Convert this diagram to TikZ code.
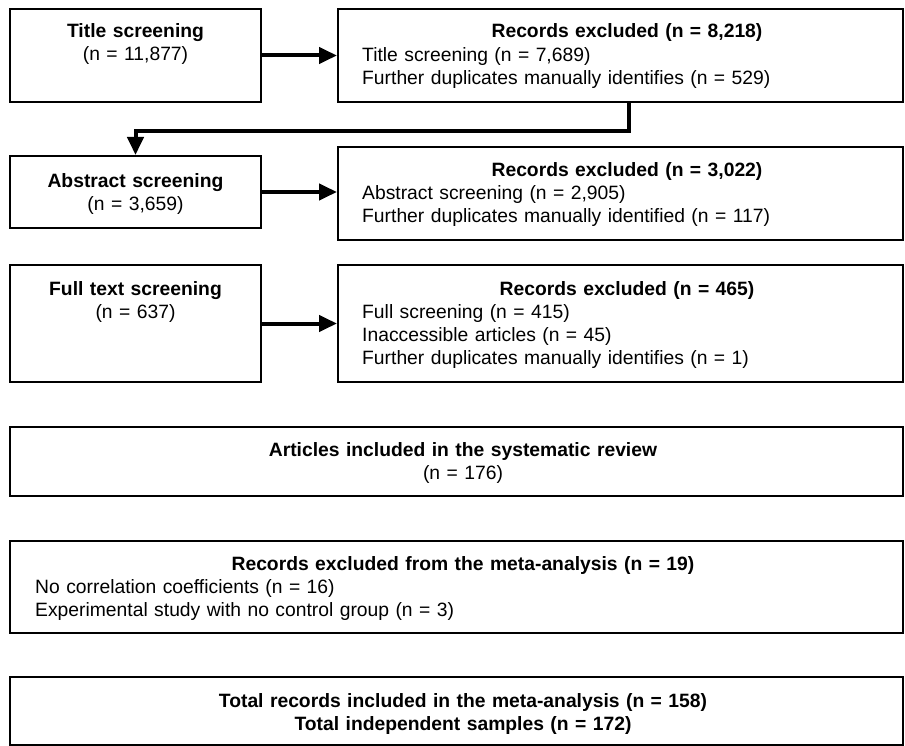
\documentclass[tikz,border=0pt]{standalone}
\usepackage{fontspec}
\setmainfont{Liberation Sans}
\usetikzlibrary{arrows.meta,positioning}

\tikzset{
	box/.style={draw, line width=2pt, inner sep=0pt},
	label/.style={font=\fontsize{19.3}{23}\selectfont, inner sep=0pt, anchor=base},
	centred/.style={label, align=center, text width=560pt},
	listed/.style={label, align=left, text width=540pt, anchor=base west},
	flow/.style={line width=4pt, -{Triangle[length=18pt,width=16pt]}}
}

\begin{document}
\begin{tikzpicture}[x=1pt,y=-1pt]
		\useasboundingbox (0,0) rectangle (905,746);
		\node[box, minimum width=251pt, minimum height=93pt] (title) at (135.5,55.5) {};
		\node[box, minimum width=565pt, minimum height=93pt] (excl1) at (620.5,55.5) {};
		\node[box, minimum width=251pt, minimum height=72pt] (abstract) at (135.5,192) {};
		\node[box, minimum width=565pt, minimum height=93pt] (excl2) at (620.5,193.5) {};
		\node[box, minimum width=251pt, minimum height=117pt] (fulltext) at (135.5,323.5) {};
		\node[box, minimum width=565pt, minimum height=117pt] (excl3) at (620.5,323.5) {};
		\node[box, minimum width=893pt, minimum height=69pt] (review) at (456.5,461.5) {};
		\node[box, minimum width=893pt, minimum height=92pt] (meta) at (456.5,587) {};
		\node[box, minimum width=893pt, minimum height=68pt] (total) at (456.5,711) {};

		\node[centred] (titletxt) at (135.5,38)
			{\textbf{Title screening}\\(n = 11,877)};
		\node[centred] (excl1head) at (627,38)
			{\textbf{Records excluded (n = 8,218)}};
		\node[listed] (excl1list) at (362,62)
			{Title screening (n = 7,689)\\Further duplicates manually identifies (n = 529)};
		\node[centred] (abstracttxt) at (135.5,188)
			{\textbf{Abstract screening}\\(n = 3,659)};
		\node[centred] (excl2head) at (627,177)
			{\textbf{Records excluded (n = 3,022)}};
		\node[listed] (excl2list) at (362,200)
			{Abstract screening (n = 2,905)\\Further duplicates manually identified (n = 117)};
		\node[centred] (fulltexttxt) at (135.5,295)
			{\textbf{Full text screening}\\(n = 637)};
		\node[centred] (excl3head) at (627,295)
			{\textbf{Records excluded (n = 465)}};
		\node[listed] (excl3list) at (362,318)
			{Full screening (n = 415)\\Inaccessible articles (n = 45)\\Further duplicates manually identifies (n = 1)};
		\node[centred] (reviewtxt) at (463,456)
			{\textbf{Articles included in the systematic review}\\(n = 176)};
		\node[centred] (metahead) at (463,570)
			{\textbf{Records excluded from the meta-analysis (n = 19)}};
		\node[listed] (metalist) at (35,593)
			{No correlation coefficients (n = 16)\\Experimental study with no control group (n = 3)};
		\node[centred] (totaltxt) at (463,707)
			{\textbf{Total records included in the meta-analysis (n = 158)}\\\textbf{Total independent samples (n = 172)}};

		\draw[flow] (title) -- (excl1);
		\draw[flow] ([xshift=8.5pt]excl1.south) -- ++(0,28) -| (abstract.north);
		\draw[flow] (abstract.east) -- (abstract.east -| excl2.west);
		\draw[flow] (fulltext) -- (excl3);
	\end{tikzpicture}
\end{document}
